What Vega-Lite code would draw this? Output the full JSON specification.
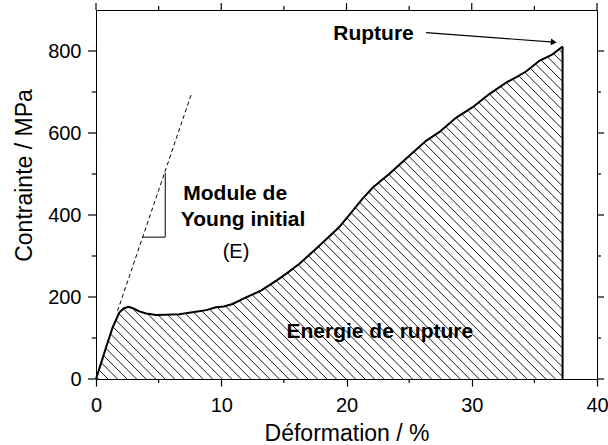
{
  "$schema": "https://vega.github.io/schema/vega-lite/v6.json",
  "width": 501,
  "height": 369,
  "autosize": {"type": "none"},
  "padding": {"left": 96, "top": 10, "right": 11, "bottom": 66},
  "background": "white",
  "config": {
    "view": {"stroke": null},
    "font": "Liberation Sans",
    "axis": {"domainColor": "black", "domainWidth": 1, "grid": false, "labelFont": "Liberation Sans", "titleFont": "Liberation Sans", "labelColor": "black", "titleColor": "black"}
  },
  "datasets": {
    "curve": [
      {"e": 0, "s": 0}, {"e": 0.4, "s": 38}, {"e": 0.8, "s": 77}, {"e": 1.33, "s": 126}, {"e": 1.86, "s": 162},
      {"e": 2.2, "s": 172}, {"e": 2.6, "s": 176}, {"e": 3.0, "s": 172}, {"e": 3.46, "s": 165}, {"e": 4.0, "s": 160},
      {"e": 4.79, "s": 156}, {"e": 5.5, "s": 157}, {"e": 6.65, "s": 158}, {"e": 7.3, "s": 161}, {"e": 7.98, "s": 164},
      {"e": 8.8, "s": 168}, {"e": 9.58, "s": 175}, {"e": 10.2, "s": 177}, {"e": 10.9, "s": 183}, {"e": 11.98, "s": 199},
      {"e": 13.2, "s": 216}, {"e": 14.4, "s": 240}, {"e": 15.2, "s": 257}, {"e": 16.24, "s": 281}, {"e": 17.83, "s": 325},
      {"e": 19.4, "s": 370}, {"e": 20.36, "s": 405}, {"e": 21.2, "s": 437}, {"e": 22.1, "s": 467}, {"e": 23.4, "s": 500},
      {"e": 24.75, "s": 537}, {"e": 26.35, "s": 581}, {"e": 27.4, "s": 602}, {"e": 28.74, "s": 637}, {"e": 30.07, "s": 663},
      {"e": 31.4, "s": 695}, {"e": 32.74, "s": 723}, {"e": 33.6, "s": 737}, {"e": 34.33, "s": 750}, {"e": 35.4, "s": 776},
      {"e": 36.45, "s": 792}, {"e": 37.25, "s": 811}
    ],
    "hatch": [
      {"xt": -29.26, "xb": 0.2}, {"xt": -28.5, "xb": 0.96}, {"xt": -27.74, "xb": 1.72}, {"xt": -26.98, "xb": 2.48},
      {"xt": -26.22, "xb": 3.24}, {"xt": -25.46, "xb": 4.0}, {"xt": -24.7, "xb": 4.76}, {"xt": -23.94, "xb": 5.52},
      {"xt": -23.18, "xb": 6.28}, {"xt": -22.42, "xb": 7.04}, {"xt": -21.66, "xb": 7.8}, {"xt": -20.9, "xb": 8.56},
      {"xt": -20.14, "xb": 9.32}, {"xt": -19.38, "xb": 10.08}, {"xt": -18.62, "xb": 10.84}, {"xt": -17.86, "xb": 11.6},
      {"xt": -17.1, "xb": 12.36}, {"xt": -16.34, "xb": 13.12}, {"xt": -15.58, "xb": 13.88}, {"xt": -14.82, "xb": 14.64},
      {"xt": -14.06, "xb": 15.4}, {"xt": -13.3, "xb": 16.16}, {"xt": -12.54, "xb": 16.92}, {"xt": -11.78, "xb": 17.68},
      {"xt": -11.02, "xb": 18.44}, {"xt": -10.26, "xb": 19.2}, {"xt": -9.5, "xb": 19.96}, {"xt": -8.74, "xb": 20.72},
      {"xt": -7.98, "xb": 21.48}, {"xt": -7.22, "xb": 22.24}, {"xt": -6.46, "xb": 23.0}, {"xt": -5.7, "xb": 23.76},
      {"xt": -4.94, "xb": 24.52}, {"xt": -4.18, "xb": 25.28}, {"xt": -3.42, "xb": 26.04}, {"xt": -2.66, "xb": 26.8},
      {"xt": -1.9, "xb": 27.56}, {"xt": -1.14, "xb": 28.32}, {"xt": -0.38, "xb": 29.08}, {"xt": 0.38, "xb": 29.84},
      {"xt": 1.14, "xb": 30.6}, {"xt": 1.9, "xb": 31.36}, {"xt": 2.66, "xb": 32.12}, {"xt": 3.42, "xb": 32.88},
      {"xt": 4.18, "xb": 33.64}, {"xt": 4.94, "xb": 34.4}, {"xt": 5.7, "xb": 35.16}, {"xt": 6.46, "xb": 35.92},
      {"xt": 7.22, "xb": 36.68}, {"xt": 7.98, "xb": 37.44}, {"xt": 8.74, "xb": 38.2}, {"xt": 9.5, "xb": 38.96},
      {"xt": 10.26, "xb": 39.72}, {"xt": 11.02, "xb": 40.48}, {"xt": 11.78, "xb": 41.24}, {"xt": 12.54, "xb": 42.0},
      {"xt": 13.3, "xb": 42.76}, {"xt": 14.06, "xb": 43.52}, {"xt": 14.82, "xb": 44.28}, {"xt": 15.58, "xb": 45.04},
      {"xt": 16.34, "xb": 45.8}, {"xt": 17.1, "xb": 46.56}, {"xt": 17.86, "xb": 47.32}, {"xt": 18.62, "xb": 48.08},
      {"xt": 19.38, "xb": 48.84}, {"xt": 20.14, "xb": 49.6}, {"xt": 20.9, "xb": 50.36}, {"xt": 21.66, "xb": 51.12},
      {"xt": 22.42, "xb": 51.88}, {"xt": 23.18, "xb": 52.64}, {"xt": 23.94, "xb": 53.4}, {"xt": 24.7, "xb": 54.16},
      {"xt": 25.46, "xb": 54.92}, {"xt": 26.22, "xb": 55.68}, {"xt": 26.98, "xb": 56.44}, {"xt": 27.74, "xb": 57.2},
      {"xt": 28.5, "xb": 57.96}, {"xt": 29.26, "xb": 58.72}, {"xt": 30.02, "xb": 59.48}, {"xt": 30.78, "xb": 60.24},
      {"xt": 31.54, "xb": 61.0}, {"xt": 32.3, "xb": 61.76}, {"xt": 33.06, "xb": 62.52}, {"xt": 33.82, "xb": 63.28},
      {"xt": 34.58, "xb": 64.04}
    ],
    "boldText": [
      {"tx": 22.16, "ty": 827, "label": "Rupture"},
      {"tx": 11.11, "ty": 437, "label": "Module de"},
      {"tx": 11.74, "ty": 374, "label": "Young initial"},
      {"tx": 22.66, "ty": 101, "label": "Energie de rupture"}
    ],
    "normalText": [
      {"tx": 11.18, "ty": 295, "label": "(E)"}
    ],
    "xMajor": [{"v": 0}, {"v": 10}, {"v": 20}, {"v": 30}, {"v": 40}],
    "xMinor": [{"v": 5}, {"v": 15}, {"v": 25}, {"v": 35}],
    "yMajor": [{"v": 0}, {"v": 200}, {"v": 400}, {"v": 600}, {"v": 800}],
    "yMinor": [{"v": 100}, {"v": 300}, {"v": 500}, {"v": 700}],
    "one": [{}]
  },
  "resolve": {"axis": {"x": "independent", "y": "independent"}},
  "layer": [
    {
      "data": {"name": "hatch"},
      "mark": {"type": "rule", "stroke": "black", "strokeWidth": 0.9, "clip": true},
      "encoding": {
        "x": {"field": "xt", "type": "quantitative", "scale": {"domain": [0, 40], "nice": false},
          "axis": {"orient": "bottom", "values": [0, 10, 20, 30, 40], "ticks": true, "tickSize": 7, "tickColor": "black", "tickWidth": 1.2,
            "labelFontSize": 20, "labelPadding": 9, "labelFlush": false, "labelOverlap": false, "labelBound": false,
            "title": "Déformation / %", "titleFontSize": 23, "titleFontWeight": "normal", "titleY": 61, "titleBaseline": "alphabetic",
            "zindex": 1}},
        "x2": {"field": "xb"},
        "y": {"datum": 900, "type": "quantitative", "scale": {"domain": [0, 900], "nice": false},
          "axis": {"orient": "left", "values": [0, 200, 400, 600, 800], "ticks": false,
            "labelFontSize": 20, "labelPadding": 15, "labelFlush": false, "labelOverlap": false, "labelBound": false,
            "title": "Contrainte / MPa", "titleFontSize": 23, "titleFontWeight": "normal", "titleX": -65, "titleY": 165,
            "titleAngle": 270, "titleBaseline": "alphabetic", "titleAlign": "center", "zindex": 1}},
        "y2": {"datum": 0}
      }
    },
    {
      "data": {"name": "curve"},
      "mark": {"type": "area", "fill": "white", "strokeWidth": 0},
      "encoding": {
        "x": {"field": "e", "type": "quantitative",
          "axis": {"orient": "top", "values": [0, 10, 20, 30, 40], "ticks": false, "labels": false, "title": null, "zindex": 1}},
        "y": {"field": "s", "type": "quantitative",
          "axis": {"orient": "right", "values": [0, 200, 400, 600, 800], "ticks": false, "labels": false, "title": null, "zindex": 1}},
        "y2": {"datum": 900}
      }
    },
    {
      "data": {"name": "one"},
      "mark": {"type": "rect", "fill": "white", "clip": true},
      "encoding": {
        "x": {"datum": 37.25, "type": "quantitative", "axis": null},
        "x2": {"datum": 41},
        "y": {"datum": 0, "type": "quantitative", "axis": null},
        "y2": {"datum": 900}
      }
    },
    {
      "data": {"name": "curve"},
      "mark": {"type": "line", "stroke": "black", "strokeWidth": 2},
      "encoding": {
        "x": {"field": "e", "type": "quantitative", "axis": null},
        "y": {"field": "s", "type": "quantitative", "axis": null}
      }
    },
    {
      "data": {"name": "xMajor"},
      "mark": {"type": "rule", "stroke": "black", "strokeWidth": 1.2},
      "encoding": {
        "x": {"field": "v", "type": "quantitative", "axis": null},
        "y": {"datum": 900, "type": "quantitative", "axis": null},
        "y2": {"datum": 917}
      }
    },
    {
      "data": {"name": "xMinor"},
      "mark": {"type": "rule", "stroke": "black", "strokeWidth": 1.2},
      "encoding": {
        "x": {"field": "v", "type": "quantitative", "axis": null},
        "y": {"datum": 0, "type": "quantitative", "axis": null},
        "y2": {"datum": -10}
      }
    },
    {
      "data": {"name": "xMinor"},
      "mark": {"type": "rule", "stroke": "black", "strokeWidth": 1.2},
      "encoding": {
        "x": {"field": "v", "type": "quantitative", "axis": null},
        "y": {"datum": 900, "type": "quantitative", "axis": null},
        "y2": {"datum": 910}
      }
    },
    {
      "data": {"name": "yMajor"},
      "mark": {"type": "rule", "stroke": "black", "strokeWidth": 1.2},
      "encoding": {
        "y": {"field": "v", "type": "quantitative", "axis": null},
        "x": {"datum": 0, "type": "quantitative", "axis": null},
        "x2": {"datum": -0.64}
      }
    },
    {
      "data": {"name": "yMajor"},
      "mark": {"type": "rule", "stroke": "black", "strokeWidth": 1.2},
      "encoding": {
        "y": {"field": "v", "type": "quantitative", "axis": null},
        "x": {"datum": 40, "type": "quantitative", "axis": null},
        "x2": {"datum": 40.56}
      }
    },
    {
      "data": {"name": "yMinor"},
      "mark": {"type": "rule", "stroke": "black", "strokeWidth": 1.2},
      "encoding": {
        "y": {"field": "v", "type": "quantitative", "axis": null},
        "x": {"datum": 0, "type": "quantitative", "axis": null},
        "x2": {"datum": -0.34}
      }
    },
    {
      "data": {"name": "yMinor"},
      "mark": {"type": "rule", "stroke": "black", "strokeWidth": 1.2},
      "encoding": {
        "y": {"field": "v", "type": "quantitative", "axis": null},
        "x": {"datum": 40, "type": "quantitative", "axis": null},
        "x2": {"datum": 40.32}
      }
    },
    {
      "data": {"name": "one"},
      "mark": {"type": "rule", "stroke": "black", "strokeWidth": 2},
      "encoding": {
        "x": {"datum": 37.25, "type": "quantitative", "axis": null},
        "y": {"datum": 0, "type": "quantitative", "axis": null},
        "y2": {"datum": 811}
      }
    },
    {
      "data": {"name": "one"},
      "mark": {"type": "rule", "stroke": "black", "strokeWidth": 1, "strokeDash": [4, 3]},
      "encoding": {
        "x": {"datum": 1.72, "type": "quantitative", "axis": null},
        "x2": {"datum": 7.66},
        "y": {"datum": 166, "type": "quantitative", "axis": null},
        "y2": {"datum": 699}
      }
    },
    {
      "data": {"name": "one"},
      "mark": {"type": "rule", "stroke": "black", "strokeWidth": 1},
      "encoding": {
        "x": {"datum": 5.53, "type": "quantitative", "axis": null},
        "y": {"datum": 346, "type": "quantitative", "axis": null},
        "y2": {"datum": 503}
      }
    },
    {
      "data": {"name": "one"},
      "mark": {"type": "rule", "stroke": "black", "strokeWidth": 1},
      "encoding": {
        "x": {"datum": 3.72, "type": "quantitative", "axis": null},
        "x2": {"datum": 5.53},
        "y": {"datum": 346, "type": "quantitative", "axis": null}
      }
    },
    {
      "data": {"name": "one"},
      "mark": {"type": "rule", "stroke": "black", "strokeWidth": 1.2},
      "encoding": {
        "x": {"datum": 26.35, "type": "quantitative", "axis": null},
        "x2": {"datum": 36.55},
        "y": {"datum": 845, "type": "quantitative", "axis": null},
        "y2": {"datum": 821.5}
      }
    },
    {
      "data": {"name": "one"},
      "mark": {"type": "point", "shape": "triangle-right", "filled": true, "fill": "black", "stroke": null, "opacity": 1, "size": 45, "angle": 4.3},
      "encoding": {
        "x": {"datum": 36.55, "type": "quantitative", "axis": null},
        "y": {"datum": 821.5, "type": "quantitative", "axis": null}
      }
    },
    {
      "data": {"name": "boldText"},
      "mark": {"type": "text", "font": "Liberation Sans", "fontWeight": "bold", "fontSize": 21, "align": "center", "baseline": "alphabetic", "color": "black"},
      "encoding": {
        "x": {"field": "tx", "type": "quantitative", "axis": null},
        "y": {"field": "ty", "type": "quantitative", "axis": null},
        "text": {"field": "label"}
      }
    },
    {
      "data": {"name": "normalText"},
      "mark": {"type": "text", "font": "Liberation Sans", "fontSize": 20, "align": "center", "baseline": "alphabetic", "color": "black"},
      "encoding": {
        "x": {"field": "tx", "type": "quantitative", "axis": null},
        "y": {"field": "ty", "type": "quantitative", "axis": null},
        "text": {"field": "label"}
      }
    }
  ]
}
